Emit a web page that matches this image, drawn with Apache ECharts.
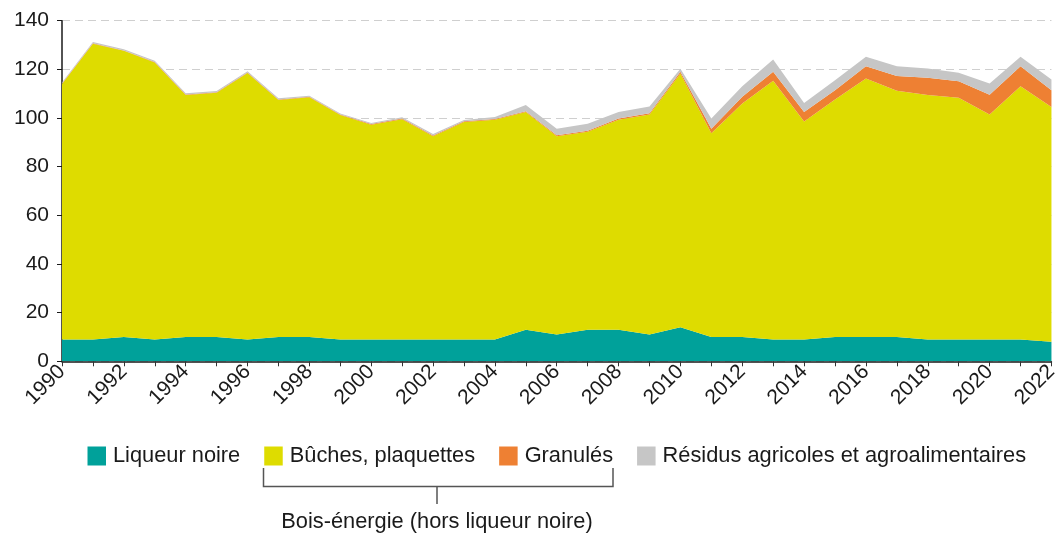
<!DOCTYPE html>
<html lang="fr">
    <head>
        <meta charset="UTF-8">
        <title>Bois-énergie</title>
        <script src="https://cdn.jsdelivr.net/npm/echarts@6/dist/echarts.min.js"></script>
        <style>
            html, body { margin: 0; padding: 0; background: #fff; }
        </style>
    </head>
    <body>
        <div id="main" style="width: 1061px;height:536px;"></div>
        <script>
            var years = ['1990','1991','1992','1993','1994','1995','1996','1997','1998','1999',
                '2000','2001','2002','2003','2004','2005','2006','2007','2008','2009',
                '2010','2011','2012','2013','2014','2015','2016','2017','2018','2019',
                '2020','2021','2022'];

            var liqueur = [9, 9, 10, 9, 10, 10, 9, 10, 10, 9,
                9, 9, 9, 9, 9, 13, 11, 13, 13, 11,
                14, 10, 10, 9, 9, 10, 10, 10, 9, 9,
                9, 9, 8];

            var buches = [105, 121.5, 117.6, 113.8, 99.5, 100.4, 109.5, 97.4, 98.5, 92.2,
                88.2, 90.5, 83.5, 89.4, 90.3, 89.5, 81.5, 81.4, 86.3, 90.4,
                104.3, 83.7, 96, 106.3, 89.6, 97.6, 106.2, 101.2, 100.5, 99.3,
                92.4, 104.1, 96.5];

            var granules = [0.2, 0.2, 0.2, 0.2, 0.2, 0.2, 0.2, 0.2, 0.2, 0.2,
                0.3, 0.3, 0.3, 0.3, 0.3, 0.3, 0.4, 0.4, 0.5, 0.6,
                0.7, 1.9, 2.7, 3.7, 3.9, 3.8, 5.1, 6.1, 7, 6.8,
                8.2, 8.2, 6.9];

            var residus = [0.4, 0.5, 0.5, 0.5, 0.5, 0.5, 0.5, 0.5, 0.5, 0.5,
                0.5, 0.5, 0.6, 0.5, 0.8, 2.6, 2.7, 2.8, 2.7, 2.7,
                1.3, 4.2, 4.4, 5.1, 3.7, 4.1, 3.9, 4, 3.9, 3.5,
                4.6, 3.9, 4.4];

            var yTicks = [0, 20, 40, 60, 80, 100, 120, 140];

            var font = '"Liberation Sans", Arial, sans-serif';
            var myChart = echarts.init(document.getElementById('main'));

            function area(name, data, color) {
                return {
                    name: name,
                    type: 'line',
                    stack: 'total',
                    data: data,
                    showSymbol: false,
                    symbol: 'none',
                    lineStyle: { width: 0 },
                    areaStyle: { color: color, opacity: 1 },
                    itemStyle: { color: color },
                    emphasis: { disabled: true }
                };
            }

            var option = {
                animation: false,
                textStyle: { fontFamily: font },
                grid: { left: 62, right: 8, top: 20.7, bottom: 174.7, containLabel: false },
                legend: {
                    left: 82.5,
                    top: 440,
                    itemWidth: 18.5,
                    itemHeight: 19,
                    itemGap: 24,
                    icon: 'rect',
                    textStyle: { fontSize: 21.8, color: '#1a1a1a', fontFamily: font, padding: [0, 0, 0, 2] },
                    data: ['Liqueur noire', 'Bûches, plaquettes', 'Granulés', 'Résidus agricoles et agroalimentaires']
                },
                xAxis: {
                    type: 'category',
                    data: years,
                    boundaryGap: false,
                    axisLine: { lineStyle: { color: '#1a1a1a', width: 1.5 } },
                    axisTick: { show: true, interval: 0, length: 5, lineStyle: { color: '#333' } },
                    axisLabel: {
                        interval: 1,
                        rotate: 45,
                        fontSize: 21,
                        color: '#1a1a1a',
                        fontFamily: font,
                        margin: 7
                    },
                    splitLine: { show: false }
                },
                yAxis: {
                    type: 'value',
                    min: yTicks[0],
                    max: yTicks[yTicks.length - 1],
                    interval: 20,
                    axisLine: { show: true, lineStyle: { color: '#1a1a1a', width: 1.5 } },
                    axisTick: { show: true, length: 5, lineStyle: { color: '#1a1a1a' } },
                    axisLabel: { fontSize: 21, color: '#1a1a1a', fontFamily: font, margin: 13 },
                    splitLine: { show: true, lineStyle: { color: '#cfcfcf', type: [8, 5], width: 1.2 } }
                },
                graphic: [
                    {
                        type: 'polyline',
                        shape: { points: [[263.5, 468], [263.5, 486.5], [613, 486.5], [613, 468]] },
                        style: { stroke: '#555', lineWidth: 1.5, fill: null }
                    },
                    {
                        type: 'line',
                        shape: { x1: 437, y1: 486.5, x2: 437, y2: 504 },
                        style: { stroke: '#555', lineWidth: 1.5 }
                    },
                    {
                        type: 'text',
                        x: 437,
                        y: 522,
                        style: {
                            text: 'Bois-énergie (hors liqueur noire)',
                            font: '21.8px ' + font,
                            fill: '#1a1a1a',
                            align: 'center',
                            verticalAlign: 'middle'
                        }
                    }
                ],
                series: [
                    area('Liqueur noire', liqueur, '#00A19A'),
                    area('Bûches, plaquettes', buches, '#DEDC00'),
                    area('Granulés', granules, '#EE8033'),
                    area('Résidus agricoles et agroalimentaires', residus, '#C6C6C6')
                ]
            };

            myChart.setOption(option);
        </script>
    </body>
</html>
